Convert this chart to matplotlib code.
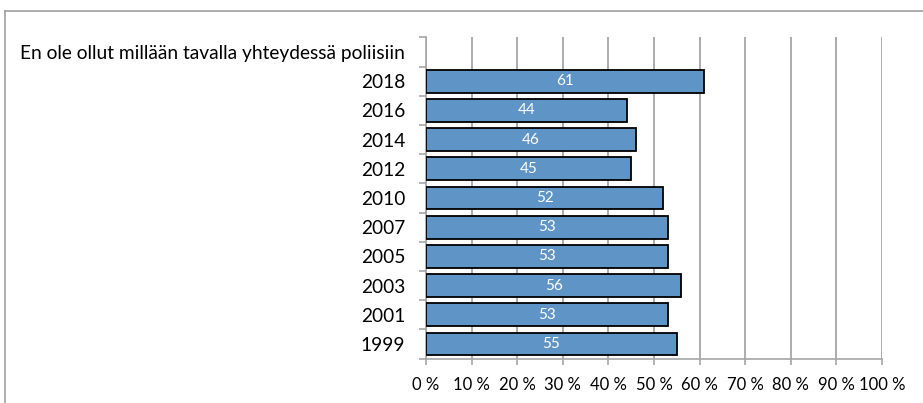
import matplotlib.pyplot as plt
import matplotlib
import numpy as np

plt.rcParams['font.family'] = ['Lato', 'DejaVu Sans']

header = "En ole ollut millään tavalla yhteydessä poliisiin"
years = ["2018", "2016", "2014", "2012", "2010", "2007", "2005", "2003", "2001", "1999"]
values = [61, 44, 46, 45, 52, 53, 53, 56, 53, 55]
xticks = [0, 10, 20, 30, 40, 50, 60, 70, 80, 90, 100]

grid_col = '#a6a6a6'
bar_col = '#5f94c6'

fig = plt.figure(figsize=(9.23, 4.03), dpi=100)
ax = fig.add_axes([0.4615, 0.1102, 0.4941, 0.797])

labels = [header] + years
n = len(labels)
ypos = np.arange(n)
ax.barh(ypos[1:], values, height=0.78, color=bar_col, edgecolor='black', linewidth=1.3, zorder=3)
for y, v in zip(ypos[1:], values):
    ax.text(v / 2, y, str(v), color='white', ha='center', va='center', fontsize=11, zorder=4)

ax.set_xlim(0, 100)
ax.set_ylim(n - 0.5, -0.5)
ax.set_xticks(xticks)
ax.set_xticklabels([f"{t} %" for t in xticks], fontsize=12)
ax.set_yticks(ypos)
ax.set_yticklabels(labels, fontsize=13.8)
ax.set_yticks(np.arange(n + 1) - 0.5, minor=True)
ax.tick_params(axis='y', which='major', length=0, pad=15)
ax.tick_params(axis='y', which='minor', length=5, color=grid_col, width=1.2)
ax.tick_params(axis='x', length=4, color=grid_col, width=1.2, pad=9)

ax.xaxis.grid(True, color=grid_col, linewidth=1.3, zorder=0)
ax.set_axisbelow(True)
for s in ['top', 'right']:
    ax.spines[s].set_visible(False)
for s in ['left', 'bottom']:
    ax.spines[s].set_color(grid_col)
    ax.spines[s].set_linewidth(1.2)

# outer chart border (only top and left edges visible)
fig.add_artist(matplotlib.lines.Line2D([5 / 923, 1], [1 - 11 / 403] * 2, color='#a0a0a0', linewidth=1.2))
fig.add_artist(matplotlib.lines.Line2D([5 / 923] * 2, [0, 1 - 11 / 403], color='#a0a0a0', linewidth=1.2))

fig.savefig("out.png", dpi=100)
